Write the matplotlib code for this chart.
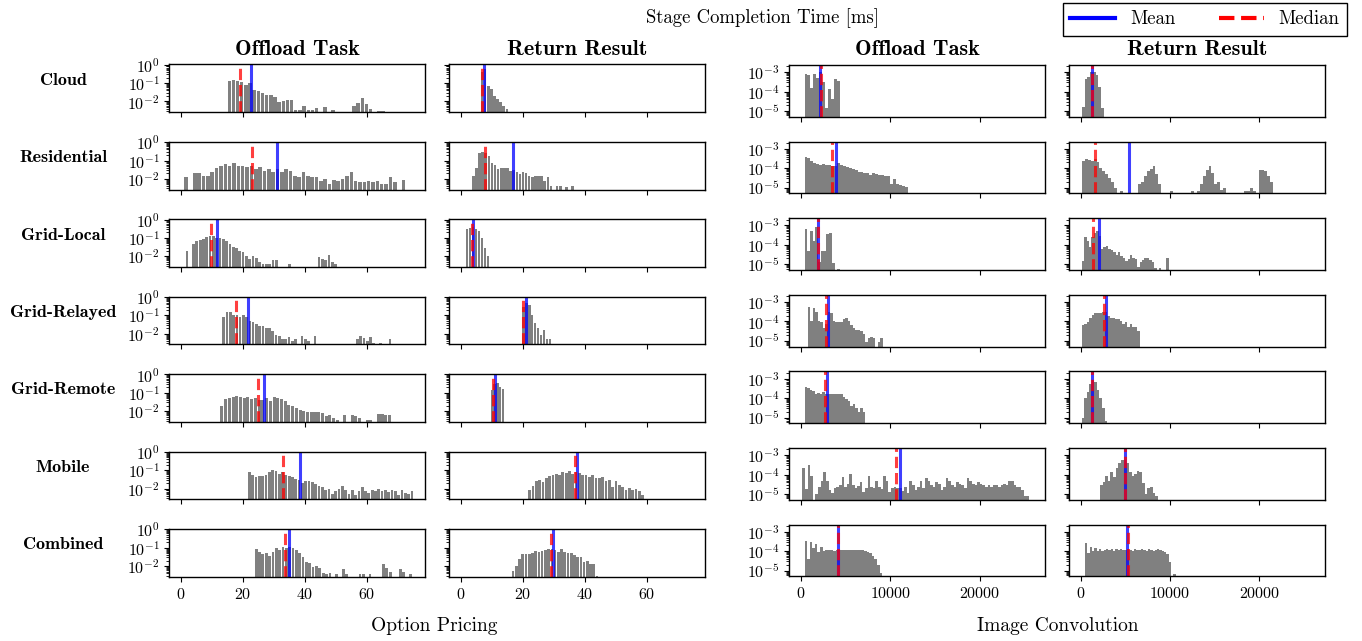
import numpy as np
import matplotlib.pyplot as plt
from matplotlib.lines import Line2D
from matplotlib.ticker import NullFormatter, FixedLocator

plt.rcParams['font.family'] = 'cmr10'
plt.rcParams['mathtext.fontset'] = 'cm'
plt.rcParams['axes.formatter.use_mathtext'] = True

rows = ['Cloud', 'Residential', 'Grid-Local', 'Grid-Relayed', 'Grid-Remote', 'Mobile', 'Combined']
stages = ['Offload Task', 'Return Result']
apps = ['Option Pricing', 'Image Convolution']

# ---- Option Pricing, Offload Task: density per bin (first edge, bin width)
op_off_cloud = [0.13, 0.15, 0.13, 0.12, 0.08, 0.10, 0.04, 0.035, 0.028, 0.023, 0.023, 0.017, 0.009, 0.01,
                0.012, 0.012, 0.0035, 0.0035, 0.0058, 0.0035, 0.0035, 0.0045, 0, 0.005, 0, 0.0035, 0, 0, 0,
                0, 0.006, 0.008, 0.015, 0.007, 0.004, 0, 0.003, 0.003]
op_off_resid = [0.012, 0, 0.021, 0.021, 0.015, 0.014, 0.025, 0.04, 0.052, 0.064, 0.052, 0.069, 0.052, 0.052,
                0.042, 0.052, 0.034, 0.042, 0.028, 0.034, 0.025, 0.034, 0.025, 0.034, 0.028, 0.015, 0.012,
                0.025, 0.015, 0.012, 0.012, 0.008, 0.01, 0.005, 0.009, 0.008, 0.01, 0.015, 0.025, 0.008,
                0.007, 0.007, 0.008, 0.0067, 0.008, 0.0054, 0.0054, 0.012, 0.0067, 0, 0.009]
op_off_local = [0.02, 0, 0.045, 0.07, 0.078, 0.092, 0.11, 0.12, 0.12, 0.1, 0.1, 0.09, 0.07, 0.046, 0.033,
                0.03, 0.02, 0.018, 0.011, 0.007, 0.011, 0.008, 0.005, 0.004, 0.004, 0.004, 0.006, 0.006, 0,
                0, 0, 0.004, 0, 0, 0, 0, 0, 0, 0, 0, 0.009, 0.007, 0.006, 0.012, 0.005, 0.004]
op_off_relay = [0.083, 0.15, 0.15, 0.11, 0.1, 0.083, 0.1, 0.08, 0.048, 0.043, 0.032, 0.028, 0.026, 0.021,
                0.021, 0.014, 0.009, 0.008, 0.0054, 0.005, 0.007, 0.004, 0.005, 0, 0.0075, 0.005, 0.004, 0,
                0.0075, 0, 0, 0, 0, 0, 0, 0, 0, 0, 0, 0, 0, 0.005, 0.0075, 0.006, 0.004, 0.007, 0.0033, 0,
                0.0033, 0, 0, 0.005]
op_off_remote = [0.02, 0.045, 0.05, 0.06, 0.065, 0.06, 0.05, 0.06, 0.045, 0.05, 0.04, 0.04, 0.05, 0.035,
                 0.06, 0.055, 0.045, 0.035, 0.023, 0.019, 0.015, 0.012, 0.01, 0.0087, 0.0095, 0.0095,
                 0.0095, 0.0081, 0.0053, 0.0065, 0.0043, 0.0035, 0, 0.0065, 0, 0.0065, 0.0053, 0.0043, 0,
                 0.0032, 0.0032, 0, 0.0075, 0.0075, 0.0065, 0.0065]
op_off_mobile = [0.076, 0.057, 0.043, 0.05, 0.047, 0.057, 0.076, 0.107, 0.087, 0.065, 0.076, 0.057, 0.05,
                 0.043, 0.033, 0.031, 0.02, 0.027, 0.025, 0.022, 0.019, 0.0145, 0.0123, 0.0082, 0.0096,
                 0.0054, 0.0072, 0.0096, 0.0134, 0.0089, 0.0054, 0.0089, 0.0048, 0.0072, 0.0123, 0.0072,
                 0.0058, 0.0082, 0.0072, 0.0096, 0.0072, 0.0089, 0.0063, 0.0089, 0.0072, 0.0048, 0.0089,
                 0.0058, 0.0054, 0.0072]
op_off_comb = [0.081, 0.06, 0.045, 0.053, 0.035, 0.06, 0.092, 0.074, 0.113, 0.1, 0.113, 0.092, 0.074, 0.049,
               0.032, 0.017, 0.014, 0.0092, 0.01, 0.0075, 0.0044, 0.0037, 0.004, 0, 0.0037, 0, 0.0066,
               0.0037, 0, 0, 0, 0.0037, 0.0037, 0, 0.0037, 0, 0, 0, 0.0128, 0.0075, 0.0049, 0, 0, 0.0066,
               0.0049, 0, 0.0037]
op_off_start = [14.9, 1.0, 1.4, 13.3, 12.6, 21.5, 23.7]
op_off_width = [1.34, 1.4, 1.065, 1.05, 1.2, 1.07, 1.08]
op_off_mean = [22.6, 31.1, 11.6, 21.5, 26.9, 38.4, 34.7]
op_off_median = [19.0, 23.0, 9.7, 17.9, 24.7, 32.8, 33.6]

# ---- Option Pricing, Return Result
op_ret_cloud = [0.4, 0.6, 0.066, 0.045, 0.02, 0.014, 0.009, 0.006, 0.004]
op_ret_resid = [0.015, 0.04, 0.27, 0.3, 0.25, 0.18, 0.07, 0.055, 0.034, 0.04, 0.04, 0.04, 0.028, 0.03, 0.023,
                0.018, 0.023, 0.021, 0.014, 0.012, 0.014, 0.015, 0.014, 0.008, 0.012, 0.004, 0, 0.004, 0.004,
                0, 0.0035, 0, 0.004]
op_ret_local = [0.29, 0.35, 0.4, 0.29, 0.24, 0.1, 0.03, 0.011]
op_ret_relay = [0.3, 0.45, 0.38, 0.11, 0.04, 0.021, 0.009, 0.016, 0.005, 0.0054]
op_ret_remote = [0.15, 0.3, 0.35, 0.22, 0.17]
op_ret_mobile = [0.008, 0.0145, 0.025, 0.031, 0.022, 0.037, 0.047, 0.057, 0.065, 0.057, 0.076, 0.07, 0.087,
                 0.065, 0.08, 0.07, 0.057, 0.057, 0.043, 0.057, 0.037, 0.04, 0.043, 0.025, 0.031, 0.012,
                 0.025, 0.016, 0.012, 0.0089, 0.0107, 0.0089, 0.0096, 0.0072, 0.0048]
op_ret_comb = [0.0056, 0.01, 0.023, 0.043, 0.045, 0.045, 0.053, 0.069, 0.06, 0.069, 0.074, 0.085, 0.081,
               0.074, 0.06, 0.081, 0.06, 0.049, 0.053, 0.04, 0.03, 0.032, 0.017, 0.02, 0.013, 0.013, 0.003]
op_ret_start = [6.3, 3.5, 1.5, 19.7, 9.5, 21.6, 16.3]
op_ret_width = [1.0, 1.0, 0.97, 0.94, 0.9, 1.07, 1.04]
op_ret_mean = [7.5, 16.9, 3.9, 20.9, 11.1, 37.4, 29.6]
op_ret_median = [6.8, 7.8, 3.5, 20.1, 10.4, 36.8, 28.9]

# ---- Image Convolution, Offload Task
ic_off_cloud = [8e-4, 7e-4, 1.5e-4, 8e-4, 5e-4, 1e-3, 3e-4, 1.5e-5, 1.3e-4, 4e-5, 4.5e-4, 3.5e-4]
ic_off_resid = [3.9e-4, 3.3e-4, 2.4e-4, 1.85e-4, 1.6e-4, 1.5e-4, 1.6e-4, 1.4e-4, 1.5e-4, 1.3e-4, 1.3e-4,
                1.8e-4, 1.5e-4, 1.28e-4, 1.1e-4, 1e-4, 8.8e-5, 8e-5, 6.8e-5, 6.5e-5, 5.4e-5, 5.4e-5, 4.6e-5,
                5.4e-5, 4.8e-5, 4.6e-5, 4.6e-5, 4.1e-5, 4.1e-5, 1.5e-5, 2.8e-5, 1.6e-5, 1.35e-5, 1.2e-5,
                1.1e-5]
ic_off_local = [6.3e-4, 5e-5, 5.3e-4, 1.5e-4, 8e-4, 1.3e-5, 5e-5, 5e-5, 3.7e-4, 4e-4, 1.2e-5, 0, 6e-6]
ic_off_relay = [5.3e-4, 1.07e-4, 4.9e-4, 3.1e-4, 1.07e-4, 9e-5, 4.4e-5, 7.5e-5, 3e-4, 2.6e-4, 1.07e-4,
                9e-5, 9.7e-5, 9e-5, 1.3e-4, 1.5e-4, 1.07e-4, 6.3e-5, 4.4e-5, 3.7e-5, 3.7e-5, 3.1e-5, 2.2e-5,
                9e-6, 1.5e-5, 1.6e-5, 1.5e-5, 0, 9e-6, 1.5e-5]
ic_off_remote = [3.5e-4, 3.2e-4, 2.6e-4, 2.2e-4, 1.7e-4, 1.9e-4, 1.7e-4, 2e-4, 1.7e-4, 1.7e-4, 1.7e-4,
                 1.7e-4, 1.7e-4, 1.6e-4, 1.6e-4, 1.2e-4, 9e-5, 7e-5, 4e-5, 5e-5, 3e-5, 2e-5, 3e-5, 2e-5]
ic_off_mobile = [2.2e-4, 1.75e-5, 3e-4, 8.8e-5, 5e-6, 1e-5, 2.4e-5, 5e-5, 1.3e-4, 5e-5, 1.6e-5, 1.1e-5,
                 2e-5, 2.4e-5, 2.8e-5, 7.3e-5, 2.4e-5, 3.4e-5, 1.1e-4, 2.8e-5, 2e-5, 2.6e-5, 4.2e-5,
                 1.35e-5, 2e-5, 9e-5, 2.4e-5, 2e-5, 4.5e-5, 2.4e-5, 1.75e-5, 9e-5, 4.5e-5, 1.35e-5, 2e-5,
                 2.4e-5, 2e-5, 2e-5, 1.5e-5, 2.4e-5, 1.1e-5, 4.5e-5, 2.8e-5, 1.6e-5, 2.4e-5, 4.5e-5, 2e-5,
                 6.5e-5, 5e-5, 2.8e-5, 2.4e-5, 4.2e-5, 3.4e-5, 1.6e-5, 2.4e-5, 6.5e-5, 5e-5, 2.8e-5,
                 2.4e-5, 4.2e-5, 3.4e-5, 2.8e-5, 2e-5, 6.5e-5, 5e-5, 3.4e-5, 2.8e-5, 4.2e-5, 3.4e-5,
                 2.8e-5, 2.4e-5, 2.8e-5, 2.4e-5, 2.8e-5, 2.8e-5, 2.4e-5, 2.8e-5, 3.4e-5, 2.8e-5, 5e-5,
                 4.5e-5, 2.8e-5, 2.4e-5, 2.4e-5, 1.6e-5, 8e-6, 8e-6]
ic_off_comb = [3.5e-4, 4e-5, 3e-4, 1.5e-4, 2.5e-4, 9e-5, 1.6e-4, 1e-4, 1.2e-4, 1.1e-4, 1.2e-4, 1e-4, 1.1e-4,
               1.2e-4, 1.1e-4, 1.1e-4, 1.2e-4, 1.1e-4, 1.1e-4, 1.2e-4, 1.1e-4, 1.2e-4, 1.1e-4, 1e-4, 9e-5,
               8e-5, 6e-5, 4e-5, 2e-5, 8e-6]
ic_off_start = [400, 400, 400, 740, 400, 170, 400]
ic_off_width = [335, 330, 307, 280, 284, 292, 290]
ic_off_mean = [2150, 3950, 1900, 2990, 2950, 11130, 4150]
ic_off_median = [2200, 3430, 1950, 2770, 2720, 10660, 4190]

# ---- Image Convolution, Return Result
ic_ret_cloud = [1.6e-5, 4.7e-4, 5.7e-4, 1e-3, 1e-3, 7.4e-4, 1.7e-4, 1.5e-5]
ic_ret_resid = [2.5e-4, 3e-4, 2.8e-4, 2.5e-4, 3e-4, 2e-4, 1e-4, 7e-5, 5e-5, 3e-5, 2e-5, 1e-5, 0, 7e-6, 0, 0,
                0, 0, 0, 1.5e-5, 2e-5, 4e-5, 7e-5, 9e-5, 1.3e-4, 5e-5, 1.5e-5, 0, 0, 0, 7e-6, 0, 0, 0, 0,
                0, 0, 7e-6, 0, 7e-6, 1.5e-5, 4e-5, 8e-5, 1.3e-4, 6e-5, 1.5e-5, 2e-5, 8e-6, 1e-5, 0, 0, 0,
                0, 0, 0, 7e-6, 7e-6, 1e-5, 7e-6, 0, 8e-5, 8e-5, 7e-5, 4e-5, 2e-5]
ic_ret_local = [1.5e-5, 2.6e-4, 1.5e-4, 7.6e-5, 2.6e-4, 4e-4, 5e-4, 3e-4, 6.3e-5, 7.6e-5, 8.4e-5, 6.3e-5,
                5.3e-5, 4.4e-5, 3.1e-5, 4.4e-5, 2.6e-5, 2.2e-5, 1.5e-5, 1.8e-5, 3.1e-5, 2.2e-5, 1.8e-5,
                7.5e-6, 1.3e-5, 1.6e-5, 2e-5, 2.2e-5, 1.6e-5, 1.3e-5, 6.3e-6, 0, 6.3e-6, 0, 0, 2e-5]
ic_ret_relay = [6.3e-5, 7.5e-5, 9.5e-5, 1.5e-4, 2.2e-4, 2.8e-4, 2.6e-4, 2.6e-4, 3.2e-4, 3e-4, 1.9e-4,
                1.5e-4, 1.5e-4, 1.4e-4, 1.3e-4, 1.07e-4, 7.5e-5, 9e-5, 5.3e-5, 7.5e-5, 5e-5, 5.3e-5, 3.3e-5]
ic_ret_remote = [1e-5, 9.6e-5, 2e-4, 5.4e-4, 8e-4, 6.4e-4, 2.6e-4, 1.04e-4, 3e-5, 7e-6]
ic_ret_mobile = [2.8e-5, 4.2e-5, 8.8e-5, 5e-5, 1.3e-4, 7.3e-5, 2.2e-4, 3.9e-4, 5.7e-4, 6e-4, 3.9e-4, 1.3e-4,
                 8.8e-5, 1.1e-4, 1.5e-4, 1.3e-4, 3.7e-5, 1e-5, 2e-5, 2.4e-5, 1.2e-5, 8e-6]
ic_ret_comb = [2.7e-4, 7.7e-5, 1.7e-4, 1.06e-4, 1.4e-4, 1.06e-4, 1.24e-4, 1.06e-4, 1.1e-4, 1.24e-4, 1.1e-4,
               1.24e-4, 1.06e-4, 1.24e-4, 1.1e-4, 1.24e-4, 1.1e-4, 1.1e-4, 1.24e-4, 1.1e-4, 1.06e-4,
               1.24e-4, 1.2e-4, 1.1e-4, 1.24e-4, 1.1e-4, 1.06e-4, 1.24e-4, 1.1e-4, 1.06e-4, 1.1e-4,
               1.24e-4, 1.1e-4, 1.06e-4, 9e-5, 7.5e-5, 2.9e-5, 0, 6.7e-6]
ic_ret_start = [130, 130, 130, 130, 130, 2160, 480]
ic_ret_width = [307, 330, 270, 283, 283, 295, 261]
ic_ret_mean = [1300, 5460, 2020, 2820, 1280, 5000, 5230]
ic_ret_median = [1310, 1650, 1400, 2630, 1260, 4980, 5280]

columns = [
    ([op_off_cloud, op_off_resid, op_off_local, op_off_relay, op_off_remote, op_off_mobile, op_off_comb],
     op_off_start, op_off_width, op_off_mean, op_off_median),
    ([op_ret_cloud, op_ret_resid, op_ret_local, op_ret_relay, op_ret_remote, op_ret_mobile, op_ret_comb],
     op_ret_start, op_ret_width, op_ret_mean, op_ret_median),
    ([ic_off_cloud, ic_off_resid, ic_off_local, ic_off_relay, ic_off_remote, ic_off_mobile, ic_off_comb],
     ic_off_start, ic_off_width, ic_off_mean, ic_off_median),
    ([ic_ret_cloud, ic_ret_resid, ic_ret_local, ic_ret_relay, ic_ret_remote, ic_ret_mobile, ic_ret_comb],
     ic_ret_start, ic_ret_width, ic_ret_mean, ic_ret_median),
]

W, H = 1362, 641
fig = plt.figure(figsize=(W / 100, H / 100), dpi=100)

col_left = [169.3, 449.3, 789.3, 1069.0]
col_w = 256.0

for c, (hists, starts, widths, means, medians) in enumerate(columns):
    option = c < 2
    for r in range(len(rows)):
        if option:
            top, h, step = 64.3, 47.8, 77.45
        else:
            top, h, step = 65.0, 51.8, 76.6
        y_top = top + step * r
        ax = fig.add_axes([col_left[c] / W, 1 - (y_top + h) / H, col_w / W, h / H])
        ax.set_yscale('log')

        dens = np.array(hists[r], dtype=float)
        edges = starts[r] + widths[r] * np.arange(len(dens) + 1)
        centers = 0.5 * (edges[:-1] + edges[1:])
        keep = dens > 0
        frac = 0.82 if option else 1.0
        ax.bar(centers[keep], dens[keep], width=widths[r] * frac, color='#808080', linewidth=0)

        ax.axvline(means[r], color='blue', lw=2.2, alpha=0.75)
        ax.axvline(medians[r], color='red', lw=2.2, ls='--', alpha=0.75)

        if option:
            ax.set_xlim(-3.75, 78.75)
            ax.set_ylim(10 ** -2.58, 10 ** 0.02)
            ax.xaxis.set_major_locator(FixedLocator([0, 20, 40, 60]))
        else:
            ax.set_xlim(-1303, 27367)
            ax.set_ylim(10 ** -5.29, 10 ** -2.63)
            ax.xaxis.set_major_locator(FixedLocator([0, 10000, 20000]))
        ax.yaxis.set_minor_formatter(NullFormatter())
        ax.tick_params(labelsize=11.5, length=3.5, width=0.8)
        ax.tick_params(which='minor', length=2, width=0.6)
        for s in ax.spines.values():
            s.set_linewidth(1.0)
        if c in (1, 3):
            ax.tick_params(labelleft=False)
        if r < len(rows) - 1:
            ax.tick_params(labelbottom=False)
        if r == 0:
            ax.set_title(stages[c % 2], fontsize=16, family='cmb10', pad=7)
        if c == 0:
            fig.text(63 / W, 1 - (y_top + h / 2 - 8) / H, rows[r], family='cmb10', fontsize=13,
                     ha='center', va='center')

fig.text(763 / W, 1 - 18 / H, 'Stage Completion Time [ms]', fontsize=13.5, ha='center', va='center')
fig.text(434 / W, 1 - 626 / H, apps[0], fontsize=14, ha='center', va='center')
fig.text(1058 / W, 1 - 626 / H, apps[1], fontsize=14, ha='center', va='center')

handles = [Line2D([], [], color='blue', lw=3), Line2D([], [], color='red', lw=3, ls='--')]
fig.legend(handles, ['Mean', 'Median'], loc='upper right', bbox_to_anchor=(1347 / W, 1 - 3 / H), ncol=2,
           fontsize=13.5, frameon=True, fancybox=False, edgecolor='black', framealpha=1,
           columnspacing=2.3, handlelength=2.4, borderpad=0.4, borderaxespad=0)

fig.savefig('out.png', dpi=100)
